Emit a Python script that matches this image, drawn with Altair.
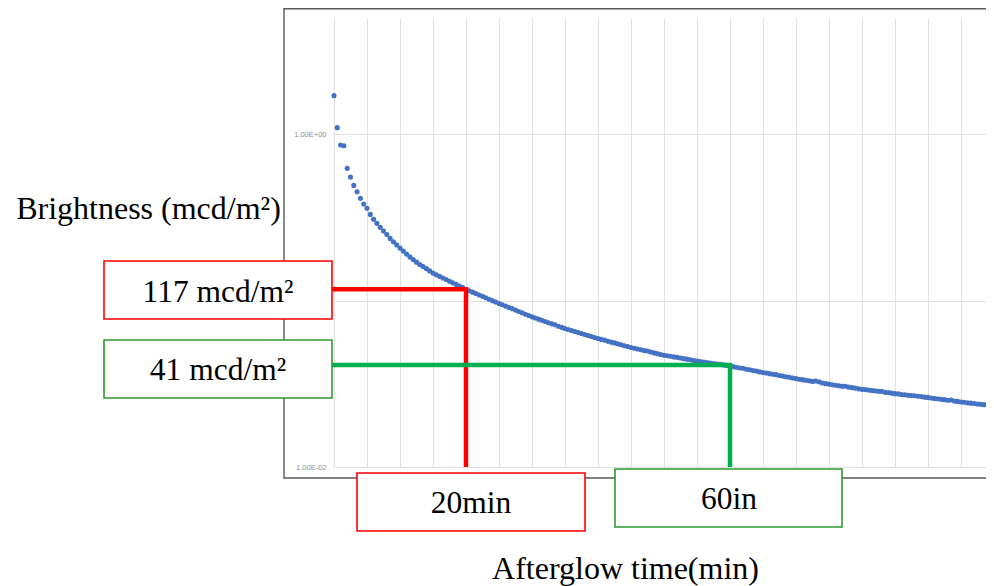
import altair as alt
import pandas as pd

# ---------------- data ----------------
times = [
    0.0, 0.5, 1.0, 1.5, 2.0, 2.5, 3.0, 3.5, 4.0, 4.5,
    5.0, 5.5, 6.0, 6.5, 7.0, 7.5, 8.0, 8.5, 9.0, 9.5,
    10.0, 10.5, 11.0, 11.5, 12.0, 12.5, 13.0, 13.5, 14.0, 14.5,
    15.0, 15.5, 16.0, 16.5, 17.0, 17.5, 18.0, 18.5, 19.0, 19.5,
    20.0, 20.5, 21.0, 21.5, 22.0, 22.5, 23.0, 23.5, 24.0, 24.5,
    25.0, 25.5, 26.0, 26.5, 27.0, 27.5, 28.0, 28.5, 29.0, 29.5,
    30.0, 30.5, 31.0, 31.5, 32.0, 32.5, 33.0, 33.5, 34.0, 34.5,
    35.0, 35.5, 36.0, 36.5, 37.0, 37.5, 38.0, 38.5, 39.0, 39.5,
    40.0, 40.5, 41.0, 41.5, 42.0, 42.5, 43.0, 43.5, 44.0, 44.5,
    45.0, 45.5, 46.0, 46.5, 47.0, 47.5, 48.0, 48.5, 49.0, 49.5,
    50.0, 50.5, 51.0, 51.5, 52.0, 52.5, 53.0, 53.5, 54.0, 54.5,
    55.0, 55.5, 56.0, 56.5, 57.0, 57.5, 58.0, 58.5, 59.0, 59.5,
    60.0, 60.5, 61.0, 61.5, 62.0, 62.5, 63.0, 63.5, 64.0, 64.5,
    65.0, 65.5, 66.0, 66.5, 67.0, 67.5, 68.0, 68.5, 69.0, 69.5,
    70.0, 70.5, 71.0, 71.5, 72.0, 72.5, 73.0, 73.5, 74.0, 74.5,
    75.0, 75.5, 76.0, 76.5, 77.0, 77.5, 78.0, 78.5, 79.0, 79.5,
    80.0, 80.5, 81.0, 81.5, 82.0, 82.5, 83.0, 83.5, 84.0, 84.5,
    85.0, 85.5, 86.0, 86.5, 87.0, 87.5, 88.0, 88.5, 89.0, 89.5,
    90.0, 90.5, 91.0, 91.5, 92.0, 92.5, 93.0, 93.5, 94.0, 94.5,
    95.0, 95.5, 96.0, 96.5, 97.0, 97.5, 98.0, 98.5, 99.0, 99.5,
    100.0,
]

# brightness in cd/m2 (axis 1.00E-02 ... 1.00E+00)
brightness = [
    1.707, 1.096, 0.862, 0.854, 0.624, 0.553, 0.493, 0.4515, 0.412, 0.3807,
    0.3587, 0.330, 0.308, 0.2914, 0.2758, 0.262, 0.250, 0.2367, 0.2261, 0.2163,
    0.2070, 0.1985, 0.1905, 0.1832, 0.1765, 0.1704, 0.1647, 0.1602, 0.1558, 0.1509,
    0.1464, 0.1432, 0.1400, 0.1369, 0.1339, 0.1309, 0.1280, 0.1252, 0.1224, 0.1197,
    0.1170, 0.1147, 0.1125, 0.1103, 0.1082, 0.1061, 0.1040, 0.1020, 0.1000, 0.0981,
    0.0962, 0.0944, 0.0927, 0.0910, 0.0895, 0.0877, 0.0861, 0.0845, 0.0829, 0.0814,
    0.0799, 0.0786, 0.0774, 0.0761, 0.0749, 0.0737, 0.0725, 0.0716, 0.0702, 0.0691,
    0.0680, 0.0671, 0.0661, 0.0652, 0.0643, 0.0635, 0.0626, 0.0617, 0.0609, 0.0600,
    0.0592, 0.0585, 0.0579, 0.0570, 0.0563, 0.0557, 0.0550, 0.0543, 0.0536, 0.0530,
    0.0523, 0.0517, 0.0512, 0.0507, 0.0501, 0.0498, 0.0491, 0.0485, 0.0480, 0.0475,
    0.0470, 0.0466, 0.0463, 0.0459, 0.0456, 0.0452, 0.0448, 0.0445, 0.0441, 0.0437,
    0.0434, 0.0431, 0.0428, 0.0425, 0.0422, 0.0419, 0.0416, 0.0415, 0.0411, 0.0408,
    0.0405, 0.0401, 0.0398, 0.0394, 0.0392, 0.0387, 0.0384, 0.0380, 0.0377, 0.0373,
    0.0370, 0.0367, 0.0364, 0.0361, 0.0359, 0.0355, 0.0352, 0.0349, 0.0346, 0.0343,
    0.0340, 0.0337, 0.0335, 0.0332, 0.0330, 0.0327, 0.0329, 0.0325, 0.0320, 0.0317,
    0.0315, 0.0312, 0.0310, 0.0308, 0.0306, 0.0306, 0.0302, 0.0300, 0.0298, 0.0295,
    0.0293, 0.0292, 0.0290, 0.0288, 0.0287, 0.0285, 0.0285, 0.0281, 0.0280, 0.0278,
    0.0276, 0.0275, 0.0273, 0.0272, 0.0270, 0.0269, 0.0268, 0.0266, 0.0265, 0.0263,
    0.0262, 0.0260, 0.0258, 0.0257, 0.0255, 0.0254, 0.0252, 0.0253, 0.0249, 0.0248,
    0.0246, 0.0245, 0.0243, 0.0242, 0.0241, 0.0239, 0.0238, 0.0237, 0.0235, 0.0234,
    0.0233,
]

grid_minutes = [0, 5, 10, 15, 20, 25, 30, 35, 40, 45, 50,
                55, 60, 65, 70, 75, 80, 85, 90, 95, 100]
y_tick_values = [0.01, 0.1, 1]
y_tick_labels = ["1.00E-02", "1.00E-01", "1.00E+00"]
y_domain = [0.01, 5]
x_domain = [0, 100]

# annotations
ann_time = [20, 60]
ann_bright = [0.117, 0.041]
ann_bright_text = ["117 mcd/m²", "41 mcd/m²"]
ann_time_text = ["20min", "60in"]

x_title = "Afterglow time(min)"
y_title = "Brightness (mcd/m²)"

# ---------------- styling ----------------
RED = "#FF0000"
GREEN_LINE = "#00B050"
GREEN_BOX = "#2E9A2E"
BLUE = "#4472C4"
GRID = "#e0e0e0"
SERIF = "Liberation Serif"
FS_TITLE = 32
FS_BOX = 31.5

W, H = 660, 449

df = pd.DataFrame({"t": times, "v": brightness})

label_expr = " : ".join(
    [f"datum.value == {v} ? '{l}'" for v, l in zip(y_tick_values, y_tick_labels)]
) + " : ''"

x_scale = alt.Scale(domain=x_domain, nice=False, zero=False)
y_scale = alt.Scale(type="log", domain=y_domain, nice=False)

x_axis = alt.Axis(
    values=grid_minutes, labels=False, ticks=False, domain=False,
    grid=True, gridColor=GRID, gridWidth=1,
    title=x_title, titleFont=SERIF, titleFontSize=FS_TITLE, titleFontWeight="normal",
    titleColor="black", titleX=291, titleY=111, titleAlign="center",
    titleBaseline="alphabetic",
)
y_axis = alt.Axis(
    values=y_tick_values, labelExpr=label_expr, labelFont="Liberation Sans",
    labelFontSize=7.5, labelColor="#8f8f8f", labelPadding=8,
    ticks=False, domain=False, grid=True, gridColor=GRID, gridWidth=1,
    title=y_title, titleFont=SERIF, titleFontSize=FS_TITLE, titleFontWeight="normal",
    titleColor="black", titleAngle=0, titleX=-186, titleY=200,
    titleAlign="center", titleBaseline="alphabetic",
)


def X(field):
    return alt.X(field, scale=x_scale, axis=x_axis)


def Y(field):
    return alt.Y(field, scale=y_scale, axis=y_axis)


one = pd.DataFrame({"k": [0]})

frame = alt.Chart(one).mark_rect(filled=False, stroke="#5a5a5a", strokeWidth=1.4).encode(
    x=alt.value(-50), x2=alt.value(720), y=alt.value(-9.3), y2=alt.value(460)
)

points = alt.Chart(df).mark_circle(size=26, color=BLUE, opacity=1).encode(
    x=X("t:Q"), y=Y("v:Q")
)

layers = [frame, points]

line_colors = [RED, GREEN_LINE]
box_colors = [RED, GREEN_BOX]
# pixel boxes relative to plot origin: (x0, x1, y0, y1, text_x, text_baseline)
ybox = [(-230, -2, 243, 301, -116, 284), (-230, -2, 322, 380, -116, 362)]
xbox = [(23, 251, 455, 513, 137, 495), (281, 508, 451, 509, 395, 491)]

for i in range(len(ann_time)):
    row = pd.DataFrame({"t0": [x_domain[0]], "t": [ann_time[i]],
                        "v": [ann_bright[i]], "v0": [y_domain[0]]})
    hline = alt.Chart(row).mark_rule(color=line_colors[i], strokeWidth=4.5, strokeCap="square").encode(
        x=X("t0:Q"), x2="t:Q", y=Y("v:Q"),
    )
    vline = alt.Chart(row).mark_rule(color=line_colors[i], strokeWidth=4.5).encode(
        x=X("t:Q"), y=Y("v:Q"), y2="v0:Q",
    )
    layers += [hline, vline]

for i in range(len(ann_time)):
    row = pd.DataFrame({"ylab": [ann_bright_text[i]], "xlab": [ann_time_text[i]]})
    for (x0, x1, y0, y1, tx, ty), field in ((ybox[i], "ylab"), (xbox[i], "xlab")):
        box = alt.Chart(row).mark_rect(fill="white", stroke=box_colors[i], strokeWidth=1.6).encode(
            x=alt.value(x0), x2=alt.value(x1), y=alt.value(y0), y2=alt.value(y1)
        )
        txt = alt.Chart(row).mark_text(font=SERIF, fontSize=FS_BOX, align="center",
                                       baseline="alphabetic", color="black").encode(
            x=alt.value(tx), y=alt.value(ty), text=f"{field}:N"
        )
        layers += [box, txt]

chart = alt.layer(*layers).properties(
    width=W, height=H,
    autosize=alt.AutoSizeParams(type="none"),
    padding={"left": 326, "top": 10, "right": -8, "bottom": 119},
    background="white",
).configure_view(stroke=None)

chart.save("out.html", embed_options={"renderer": "svg", "actions": False})
